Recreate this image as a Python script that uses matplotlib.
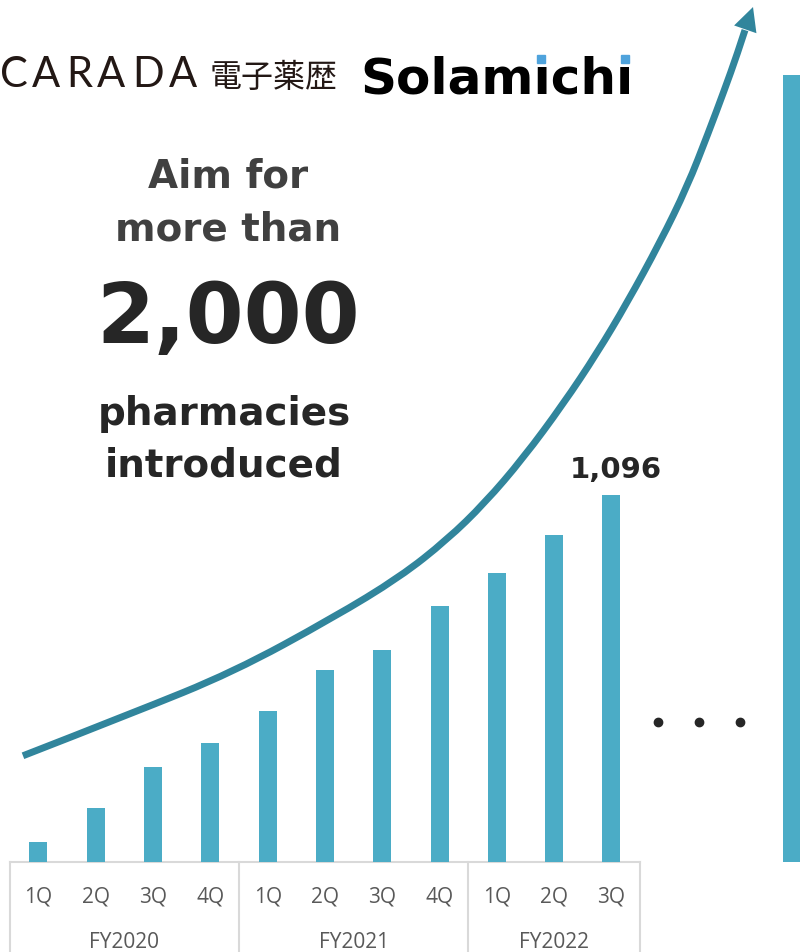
import numpy as np
import matplotlib as mpl
mpl.use('Agg')
import matplotlib.pyplot as plt
from matplotlib.path import Path
from matplotlib.patches import PathPatch

# quarterly number of pharmacies using the service
quarters = ['1Q', '2Q', '3Q', '4Q', '1Q', '2Q', '3Q', '4Q', '1Q', '2Q', '3Q']
years = ['FY2020', 'FY2021', 'FY2022']
quarters_per_year = [4, 4, 3]
pharmacies = [60, 161, 284, 355, 451, 573, 633, 764, 863, 976, 1096]
goal = 2350

# growth arrow (x in quarter slots, y in pharmacies)
arrow_x = [-0.27, 1.65, 3.40, 5.14, 6.31, 7.13, 7.79, 8.46, 9.16, 9.75,
           10.27, 10.85, 11.32, 11.69, 11.97, 12.19, 12.33]
arrow_y = [317, 445, 567, 729, 851, 962, 1072, 1206, 1368, 1520,
           1669, 1851, 2016, 2177, 2305, 2410, 2484]
arrow_tip = (12.47, 2553)

bar_color = '#4bacc6'
arrow_color = '#31859c'
dark = '#262626'
grid = '#d9d9d9'

fig = plt.figure(figsize=(8, 9.52), dpi=100)
ax = fig.add_axes([0, 0, 1, 1])
ax.set_xlim(-0.671, 13.29)
ax.set_ylim(-269, 2574)
ax.axis('off')

x = np.arange(len(pharmacies))
ax.bar(x, pharmacies, width=0.314, color=bar_color, zorder=2)
ax.bar(13.15, goal, width=0.31, color=bar_color, zorder=2)

# category box below the bars
ax.plot([-0.5, 10.5], [0, 0], color=grid, lw=1.5, zorder=1)
edges = np.cumsum([0] + quarters_per_year) - 0.5
for e in edges:
    ax.plot([e, e], [0, -269], color=grid, lw=1.5, zorder=1)
for i, q in enumerate(quarters):
    ax.text(i, -122, q, ha='center', va='baseline', fontsize=15,
            family='Open Sans', color='#595959')
for i, fy in enumerate(years):
    c = (edges[i] + edges[i + 1]) / 2
    ax.text(c, -257, fy, ha='center', va='baseline', fontsize=15,
            family='Open Sans', color='#595959')

ax.text(10.07, 1147, f'{pharmacies[-1]:,}', ha='center', va='baseline',
        fontsize=21, fontweight='bold', color=dark)

# arrow: smooth quadratic path through the read points
pts = list(zip(arrow_x, arrow_y))
verts = [pts[0]]
codes = [Path.MOVETO]
for i in range(1, len(pts) - 1):
    if i < len(pts) - 2:
        end = ((pts[i][0] + pts[i + 1][0]) / 2, (pts[i][1] + pts[i + 1][1]) / 2)
    else:
        end = pts[-1]
    verts += [pts[i], end]
    codes += [Path.CURVE3, Path.CURVE3]
ax.add_patch(PathPatch(Path(verts, codes), fill=False, edgecolor=arrow_color,
                       lw=5, capstyle='butt', zorder=3))
ax.annotate('', xy=arrow_tip, xytext=pts[-1],
            arrowprops=dict(arrowstyle='-|>,head_length=1.0,head_width=0.5',
                            mutation_scale=17, color=arrow_color, lw=0,
                            shrinkA=0, shrinkB=0), zorder=3)

# dots
ax.plot([10.81, 11.53, 12.25], [418, 418, 418], 'o', color=dark, ms=6)

# headline
ax.text(3.31, 2013, 'Aim for', ha='center', va='baseline', fontsize=28,
        fontweight='bold', color='#404040')
ax.text(3.31, 1857, 'more than', ha='center', va='baseline', fontsize=28,
        fontweight='bold', color='#404040')
ax.text(3.31, 1550, '2,000', ha='center', va='baseline', fontsize=60,
        fontweight='bold', color=dark)
ax.text(3.24, 1305, 'pharmacies', ha='center', va='baseline', fontsize=28,
        fontweight='bold', color=dark)
ax.text(3.24, 1150, 'introduced', ha='center', va='baseline', fontsize=28,
        fontweight='bold', color=dark)

# logos
logo = '#231815'
for px, ch in zip([14, 46, 79, 111, 148, 183], 'CARADA'):
    ax.text((px - 9.8) / 57.3 - 0.5, 2314, ch, ha='center', va='baseline',
            fontsize=30, family='Lato', color=logo)
ax.text((210 - 9.8) / 57.3 - 0.5, 2314, '電子薬歴', ha='left', va='baseline',
        fontsize=23, family=['Noto Sans CJK JP', 'DejaVu Sans'], color=logo)
ax.text((360 - 9.8) / 57.3 - 0.5, 2296, 'Solamıchı', ha='left', va='baseline',
        fontsize=36, fontweight='bold', color='black')
ax.plot([8.77, 10.24], [2398, 2398], 's', color='#4fa3dc', ms=6)

fig.savefig('out.png', dpi=100)
